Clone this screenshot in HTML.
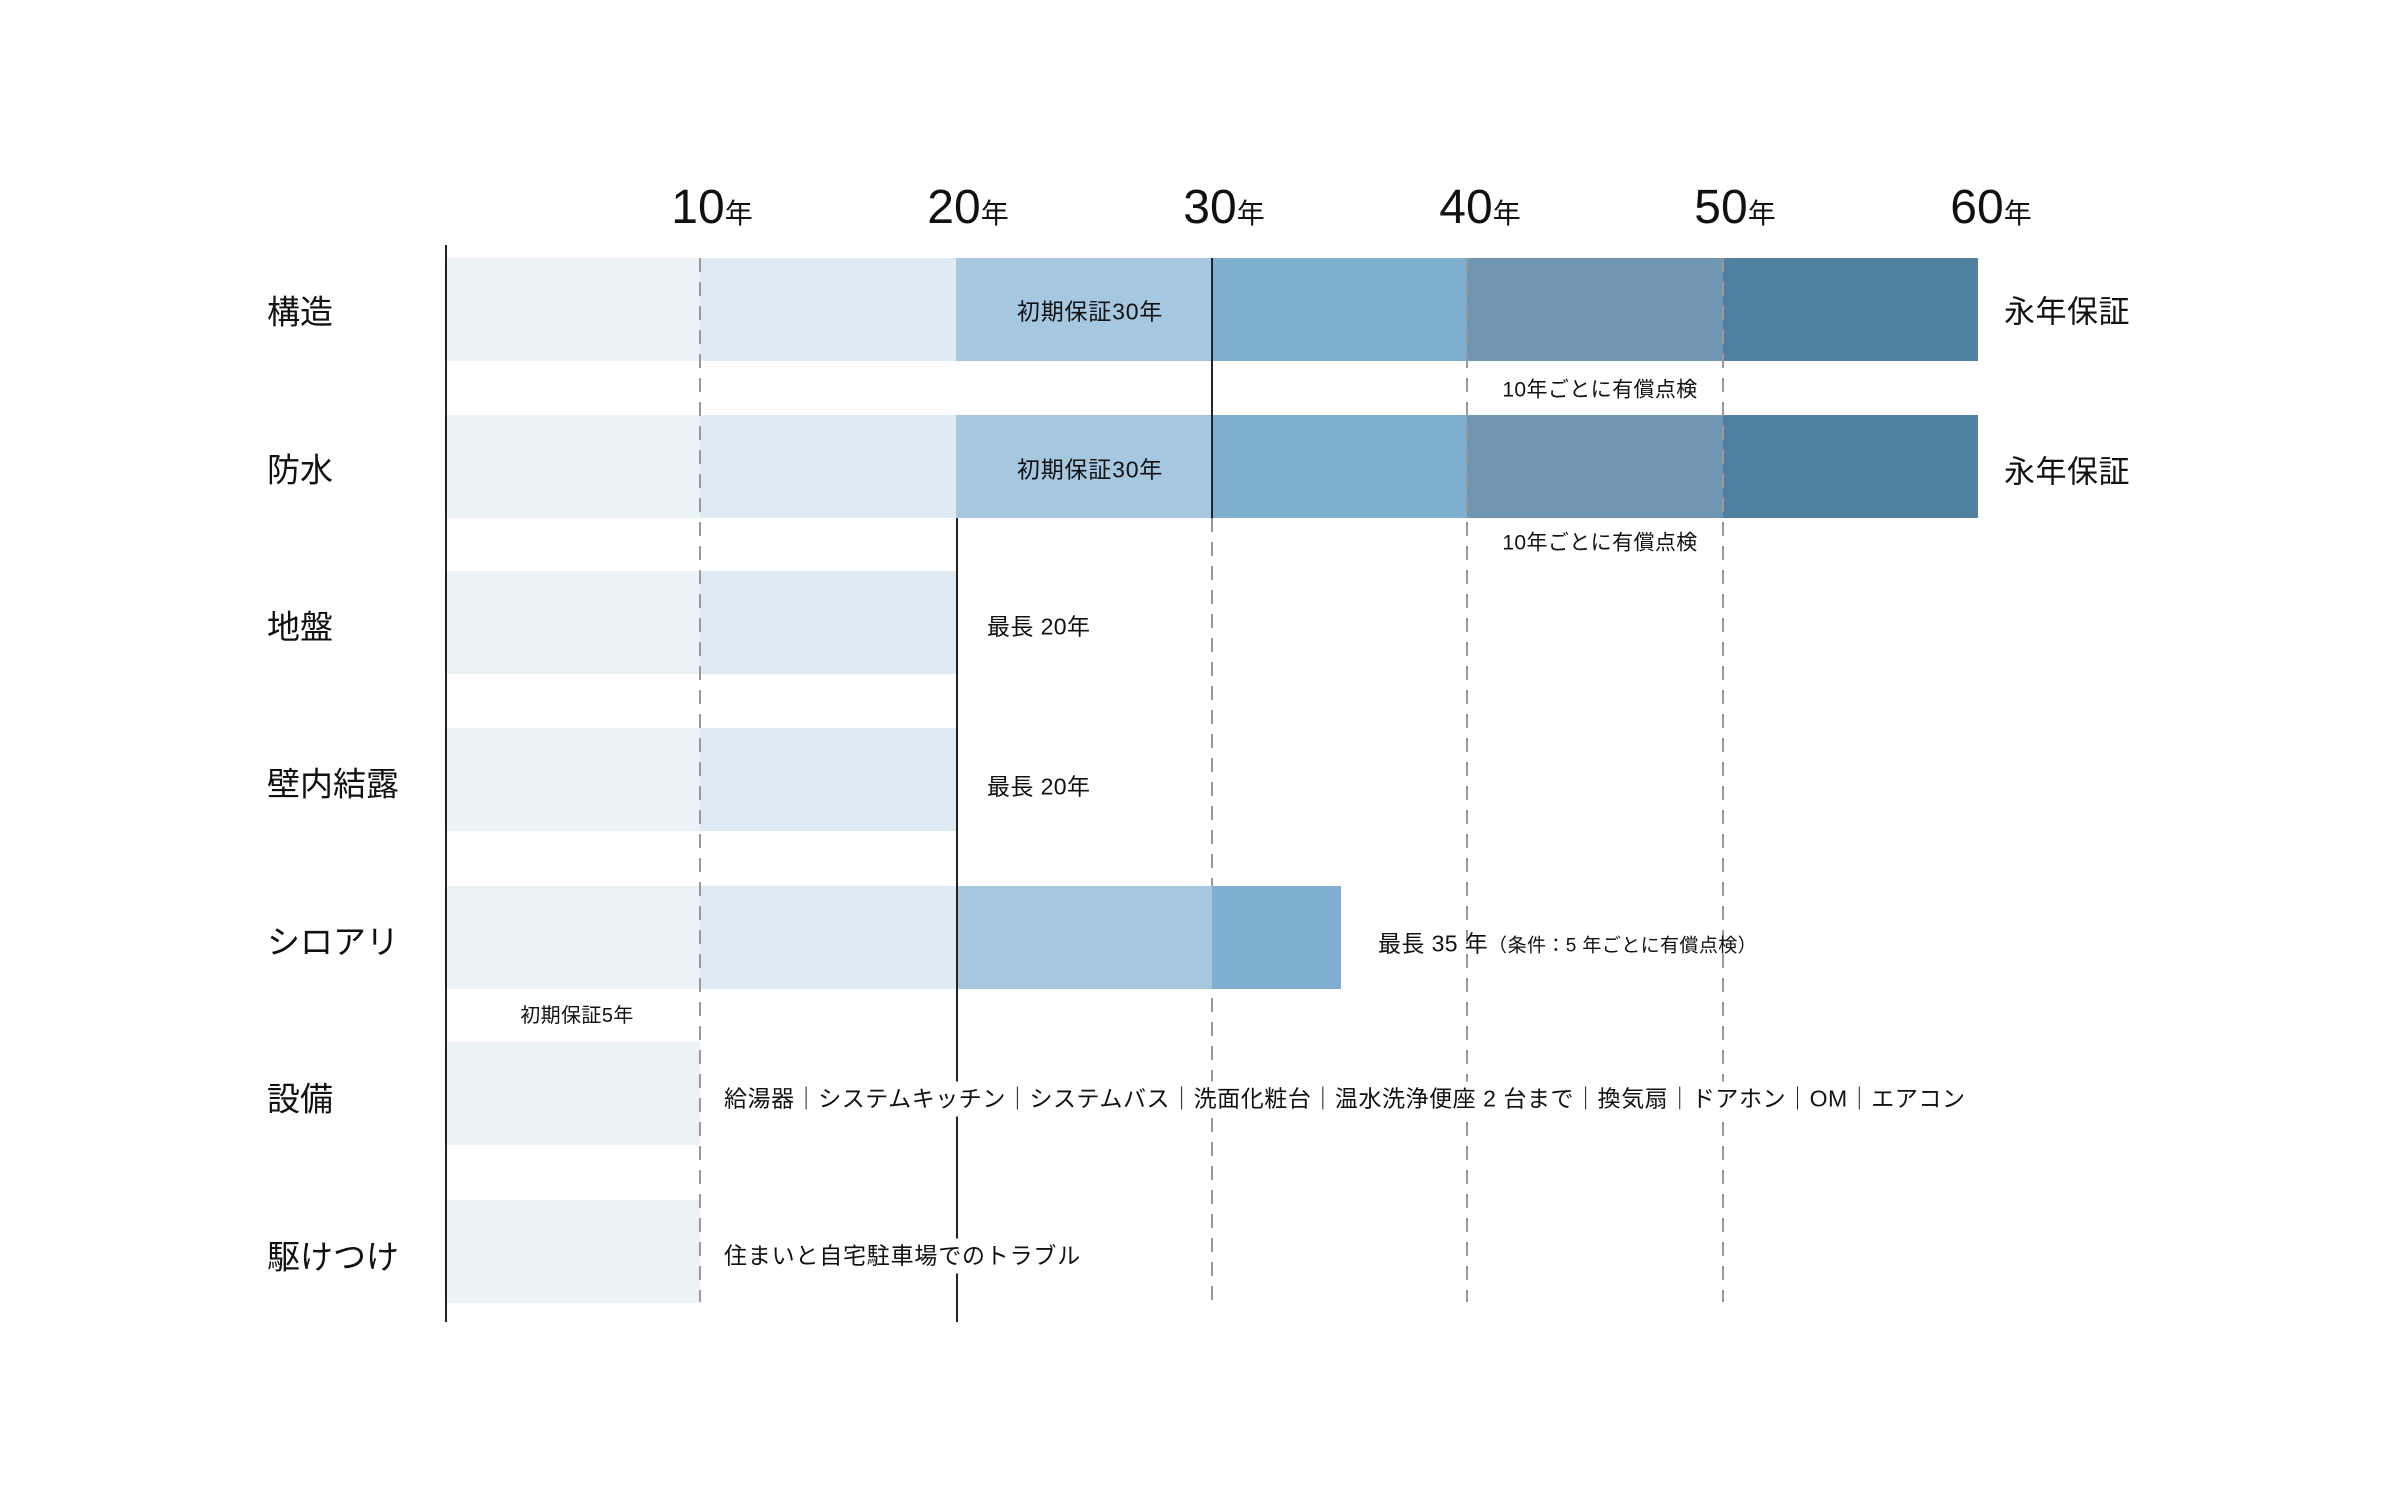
<!DOCTYPE html>
<html><head><meta charset="utf-8"><style>
body{margin:0;width:2400px;height:1510px;background:#fff;position:relative;overflow:hidden;font-family:"Liberation Sans","Noto Sans CJK JP",sans-serif;color:#111}
.b{position:absolute;height:103px}
.t{position:absolute;white-space:nowrap;line-height:1;transform:translateY(-50%)}
.c{transform:translate(-50%,-50%)}
.lab{font-size:33px;left:267px}
.s{font-size:23px}
.tick{position:absolute;top:180px;font-size:48px;white-space:nowrap;transform:translateX(-50%)}
.tick span{font-size:28px}
</style></head><body>
<svg width="2400" height="1510" style="position:absolute;left:0;top:0">
<g stroke="#999" stroke-width="2" stroke-dasharray="14,10">
<line x1="1212" y1="518" x2="1212" y2="1302"/>
</g>
</svg>
<div class="b" style="top:258px;left:445px;width:255px;background:#ecf3f7"></div>
<div class="b" style="top:258px;left:700px;width:256px;background:#deebf4"></div>
<div class="b" style="top:258px;left:956px;width:256px;background:#a5c7df"></div>
<div class="b" style="top:258px;left:1212px;width:255px;background:#80aed0"></div>
<div class="b" style="top:258px;left:1467px;width:256px;background:#7196b1"></div>
<div class="b" style="top:258px;left:1723px;width:255px;background:#517fa2"></div>
<div class="b" style="top:415px;left:445px;width:255px;background:#ecf3f7"></div>
<div class="b" style="top:415px;left:700px;width:256px;background:#deebf4"></div>
<div class="b" style="top:415px;left:956px;width:256px;background:#a5c7df"></div>
<div class="b" style="top:415px;left:1212px;width:255px;background:#80aed0"></div>
<div class="b" style="top:415px;left:1467px;width:256px;background:#7196b1"></div>
<div class="b" style="top:415px;left:1723px;width:255px;background:#517fa2"></div>
<div class="b" style="top:571px;left:445px;width:255px;background:#ecf3f7"></div>
<div class="b" style="top:571px;left:700px;width:256px;background:#deebf4"></div>
<div class="b" style="top:728px;left:445px;width:255px;background:#ecf3f7"></div>
<div class="b" style="top:728px;left:700px;width:256px;background:#deebf4"></div>
<div class="b" style="top:886px;left:445px;width:255px;background:#ecf3f7"></div>
<div class="b" style="top:886px;left:700px;width:256px;background:#deebf4"></div>
<div class="b" style="top:886px;left:956px;width:256px;background:#a5c7df"></div>
<div class="b" style="top:886px;left:1212px;width:129px;background:#80aed0"></div>
<div class="b" style="top:1042px;left:445px;width:255px;background:#ecf3f7"></div>
<div class="b" style="top:1200px;left:445px;width:255px;background:#ecf3f7"></div>
<svg width="2400" height="1510" style="position:absolute;left:0;top:0">
<g stroke="#999" stroke-width="2" stroke-dasharray="14,10">
<line x1="700" y1="258" x2="700" y2="1302"/>
<line x1="1467" y1="258" x2="1467" y2="1302"/>
<line x1="1723" y1="258" x2="1723" y2="1302"/>
</g>
<g stroke="#222" stroke-width="2">
<line x1="446" y1="245" x2="446" y2="1322"/>
<line x1="1212" y1="258" x2="1212" y2="518"/>
<line x1="957" y1="518" x2="957" y2="1322"/>
</g>
</svg>
<div class="tick" style="left:712px">10<span>年</span></div>
<div class="tick" style="left:968px">20<span>年</span></div>
<div class="tick" style="left:1224px">30<span>年</span></div>
<div class="tick" style="left:1480px">40<span>年</span></div>
<div class="tick" style="left:1735px">50<span>年</span></div>
<div class="tick" style="left:1991px">60<span>年</span></div>
<div class="t lab" style="top:312px">構造</div>
<div class="t lab" style="top:470px">防水</div>
<div class="t lab" style="top:627px">地盤</div>
<div class="t lab" style="top:784px">壁内結露</div>
<div class="t lab" style="top:942px">シロアリ</div>
<div class="t lab" style="top:1099px">設備</div>
<div class="t lab" style="top:1257px">駆けつけ</div>
<div class="t c s" style="left:1090px;top:312px;letter-spacing:0.8px">初期保証30年</div>
<div class="t c s" style="left:1090px;top:470px;letter-spacing:0.8px">初期保証30年</div>
<div class="t" style="left:2004px;top:312px;font-size:31px;letter-spacing:0.5px">永年保証</div>
<div class="t" style="left:2004px;top:472px;font-size:31px;letter-spacing:0.5px">永年保証</div>
<div class="t c" style="left:1600px;top:390px;font-size:21px;letter-spacing:0.4px">10年ごとに有償点検</div>
<div class="t c" style="left:1600px;top:543px;font-size:21px;letter-spacing:0.4px">10年ごとに有償点検</div>
<div class="t s" style="left:987px;top:627px;letter-spacing:0.4px">最長 20年</div>
<div class="t s" style="left:987px;top:787px;letter-spacing:0.4px">最長 20年</div>
<div class="t" style="left:1378px;top:944px;font-size:23px;letter-spacing:0.4px">最長 35 年<span style="font-size:19px">（条件：5 年ごとに有償点検）</span></div>
<div class="t c" style="left:577px;top:1016px;font-size:20px;letter-spacing:0.4px">初期保証5年</div>
<div class="t s" style="left:720px;top:1099px;background:#fff;padding:6px 4px;letter-spacing:0.55px">給湯器｜システムキッチン｜システムバス｜洗面化粧台｜温水洗浄便座 2 台まで｜換気扇｜ドアホン｜OM｜エアコン</div>
<div class="t s" style="left:720px;top:1256px;background:#fff;padding:6px 4px;letter-spacing:0.8px">住まいと自宅駐車場でのトラブル</div>
</body></html>
